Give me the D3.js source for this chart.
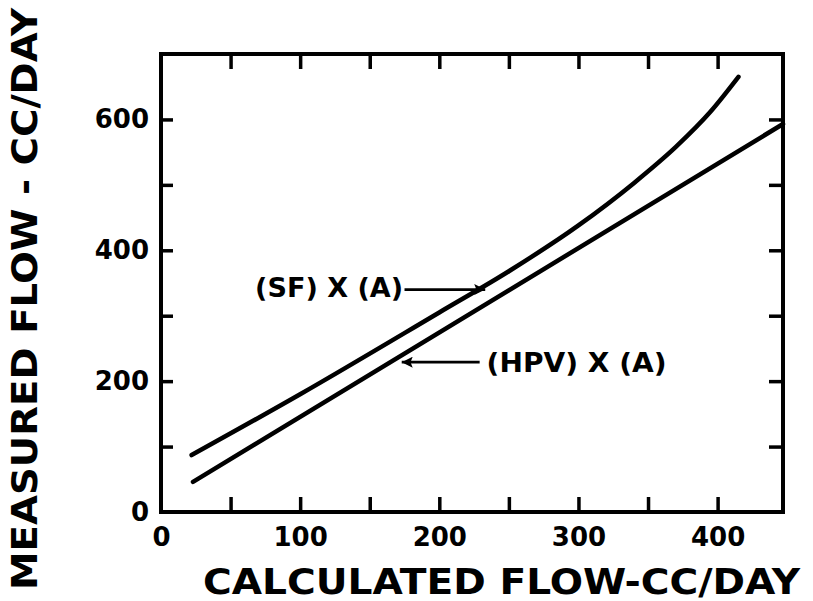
<!DOCTYPE html>
<html>
<head>
<meta charset="utf-8">
<script src="https://cdn.jsdelivr.net/npm/d3@7"></script>
<style>
  html, body { margin: 0; padding: 0; background: #fff; }
  svg { display: block; }
  text { font-family: "DejaVu Sans", sans-serif; font-weight: bold; fill: #000; }
</style>
</head>
<body>
<svg id="chart" width="813" height="601"></svg>
<script>
// ---- data ----
const xTickLabels = [0, 100, 200, 300, 400];
const xMinorTicks = [50, 100, 150, 200, 250, 300, 350, 400];
const yTickLabels = [0, 200, 400, 600];
const yMinorTicks = [100, 200, 300, 400, 500, 600];

// (SF) X (A) curve: calculated flow -> measured flow
const sfX = [22, 100, 200, 250, 300, 340, 370, 395, 415];
const sfY = [87, 180, 305, 368, 438, 503, 558, 612, 665];

// (HPV) X (A) straight line
const hpvX = [23, 447];
const hpvY = [46, 593];

// annotation anchors in data units
const sfLabel = { text: "(SF) X (A)", x: 174, y: 328, arrowFrom: [175, 340], arrowTo: [233, 340], width: 148 };
const hpvLabel = { text: "(HPV) X (A)", x: 234, y: 214, arrowFrom: [229, 229], arrowTo: [173, 229], width: 180 };

const xTitle = "CALCULATED FLOW-CC/DAY";
const yTitle = "MEASURED FLOW - CC/DAY";

// ---- scales ----
const svg = d3.select("#chart");
const x = d3.scaleLinear().domain([0, 447]).range([161, 783]);
const y = d3.scaleLinear().domain([0, 700]).range([512, 54]);

const ink = "#000";

// arrow marker
svg.append("defs").append("marker")
  .attr("id", "arrow")
  .attr("viewBox", "0 0 10 10")
  .attr("refX", 10).attr("refY", 5)
  .attr("markerUnits", "userSpaceOnUse")
  .attr("markerWidth", 20).attr("markerHeight", 11)
  .attr("orient", "auto")
  .append("path").attr("d", "M0,0 L10,5 L0,10 L2,5 Z").attr("fill", ink);

// ---- frame ----
svg.append("rect")
  .attr("x", x(0)).attr("y", y(700))
  .attr("width", x(447) - x(0)).attr("height", y(0) - y(700))
  .attr("fill", "none").attr("stroke", ink).attr("stroke-width", 4);

function styleAxis(g) {
  g.select(".domain").remove();
  g.selectAll(".tick line").attr("stroke", ink).attr("stroke-width", 3.5);
}

// inward ticks
svg.append("g").attr("transform", `translate(0,${y(0)})`)
  .call(d3.axisBottom(x).tickValues(xMinorTicks).tickSize(-15).tickFormat(""))
  .call(styleAxis);
svg.append("g").attr("transform", `translate(0,${y(700)})`)
  .call(d3.axisTop(x).tickValues(xMinorTicks).tickSize(-15).tickFormat(""))
  .call(styleAxis);
svg.append("g").attr("transform", `translate(${x(0)},0)`)
  .call(d3.axisLeft(y).tickValues(yMinorTicks).tickSize(-12).tickFormat(""))
  .call(styleAxis);
svg.append("g").attr("transform", `translate(${x(447)},0)`)
  .call(d3.axisRight(y).tickValues(yMinorTicks).tickSize(-14).tickFormat(""))
  .call(styleAxis);

// tick labels
const xLab = svg.append("g").attr("transform", `translate(0,${y(0)})`)
  .call(d3.axisBottom(x).tickValues(xTickLabels).tickSize(0).tickPadding(16).tickFormat(d3.format("d")));
xLab.select(".domain").remove();
xLab.selectAll("text").attr("font-size", 26).attr("font-family", "DejaVu Sans").attr("font-weight", "bold");

const yLab = svg.append("g").attr("transform", `translate(${x(0)},0)`)
  .call(d3.axisLeft(y).tickValues(yTickLabels).tickSize(0).tickPadding(12).tickFormat(d3.format("d")));
yLab.select(".domain").remove();
yLab.selectAll("text").attr("font-size", 26).attr("font-family", "DejaVu Sans").attr("font-weight", "bold");

// ---- curves ----
const sfData = sfX.map((v, i) => [v, sfY[i]]);
const hpvData = hpvX.map((v, i) => [v, hpvY[i]]);
const line = d3.line().x(d => x(d[0])).y(d => y(d[1])).curve(d3.curveMonotoneX);

svg.append("path").datum(sfData).attr("d", line)
  .attr("fill", "none").attr("stroke", ink).attr("stroke-width", 4.5).attr("stroke-linecap", "round");
svg.append("path").datum(hpvData).attr("d", line)
  .attr("fill", "none").attr("stroke", ink).attr("stroke-width", 4.5).attr("stroke-linecap", "round");

// ---- annotations ----
[sfLabel, hpvLabel].forEach(a => {
  svg.append("line")
    .attr("x1", x(a.arrowFrom[0])).attr("y1", y(a.arrowFrom[1]))
    .attr("x2", x(a.arrowTo[0])).attr("y2", y(a.arrowTo[1]))
    .attr("stroke", ink).attr("stroke-width", 2.8)
    .attr("marker-end", "url(#arrow)");
});
svg.append("text").attr("x", x(sfLabel.x)).attr("y", y(sfLabel.y))
  .attr("text-anchor", "end").attr("font-size", 26)
  .attr("textLength", sfLabel.width).attr("lengthAdjust", "spacingAndGlyphs")
  .text(sfLabel.text);
svg.append("text").attr("x", x(hpvLabel.x)).attr("y", y(hpvLabel.y))
  .attr("text-anchor", "start").attr("font-size", 26)
  .attr("textLength", hpvLabel.width).attr("lengthAdjust", "spacingAndGlyphs")
  .text(hpvLabel.text);

// ---- axis titles ----
svg.append("text").attr("x", 203).attr("y", 594)
  .attr("font-size", 36)
  .attr("textLength", 597).attr("lengthAdjust", "spacingAndGlyphs")
  .text(xTitle);
svg.append("text")
  .attr("transform", "translate(37,590) rotate(-90)")
  .attr("font-size", 36)
  .attr("textLength", 582).attr("lengthAdjust", "spacingAndGlyphs")
  .text(yTitle);
</script>
</body>
</html>
